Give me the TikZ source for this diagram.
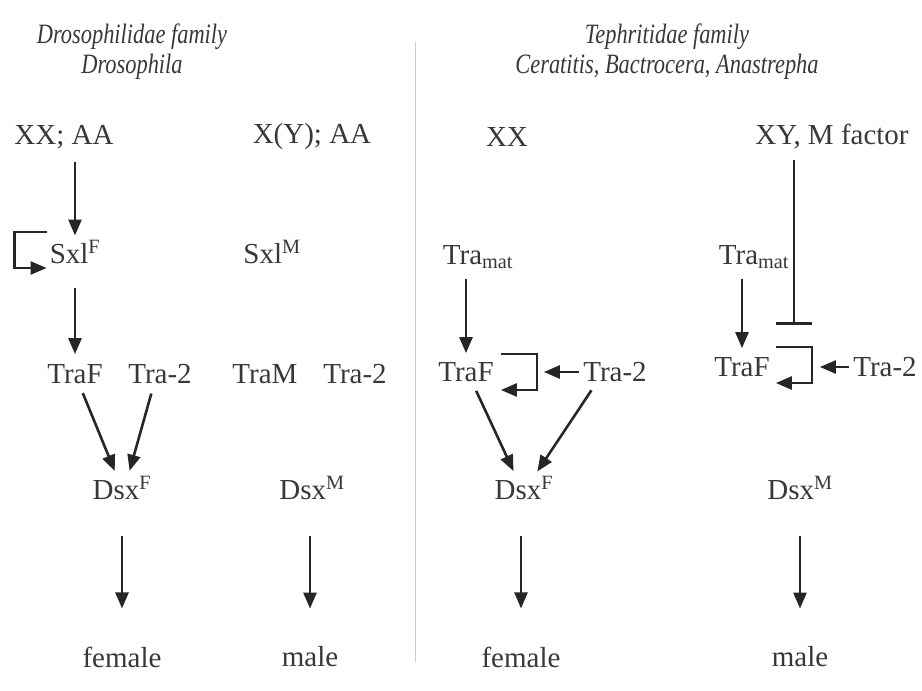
\documentclass[tikz,border=0pt]{standalone}
\usepackage{fontspec}
\setmainfont{Liberation Serif}
\newfontfamily\hdrfont[FakeStretch=0.8]{Liberation Serif}
\usetikzlibrary{arrows.meta,positioning,calc}
\definecolor{txtcol}{HTML}{383838}
\definecolor{arrcol}{HTML}{262626}
\definecolor{sepcol}{HTML}{CCCCCC}

\begin{document}
\begin{tikzpicture}[x=1pt,y=-1pt,
    lbl/.style={inner sep=0pt, text=txtcol, font=\fontsize{29}{34}\selectfont},
    hdr/.style={inner sep=0pt, text=txtcol, align=center, font=\hdrfont\itshape\fontsize{28}{30}\selectfont},
    arr/.style={draw=arrcol, line width=2.6pt, -{Triangle[length=16pt,width=13pt]}},
    blk/.style={draw=arrcol, line width=2.6pt, -{Bar[width=36pt]}},
  ]
  \useasboundingbox (0,0) rectangle (922,691);

  % headers
  \node[hdr] (hdrL) at (132,52) {Drosophilidae family\\Drosophila};
  \node[hdr] (hdrR) at (667,52) {Tephritidae family\\Ceratitis, Bactrocera, Anastrepha};
  \draw[sepcol, line width=1pt] (415,42) -- (415,662);

  % Drosophila, female
  \node[lbl] (xxaa) at (64,137) {XX; AA};
  \node[lbl] (sxlF) at (75,252) {Sxl\textsuperscript{F}};
  \node[lbl] (traF) at (75,374) {TraF};
  \node[lbl] (tra2) at (160,374) {Tra-2};
  \node[lbl] (dsxF) at (122,488) {Dsx\textsuperscript{F}};
  \node[lbl] (fem) at (122,657) {female};

  \draw[arr, shorten <=13pt, shorten >=5pt] (xxaa.south -| sxlF.north) -- (sxlF.north);
  \draw[arr] ([shift={(-3,-20)}]sxlF.west) -- ++(-32,0) -- ++(0,36) -- ++(32,0);
  \draw[arr, shorten <=24pt, shorten >=10pt] (sxlF.south) -- (traF.north);
  \draw[arr, shorten <=10pt, shorten >=6pt] ([xshift=4pt]traF.south) -- ([xshift=-5pt]dsxF.north);
  \draw[arr, shorten <=10pt, shorten >=6pt] ([xshift=-6pt]tra2.south) -- ([xshift=6pt]dsxF.north);
  \draw[arr, shorten <=36pt, shorten >=38pt] (dsxF.south -| fem.north) -- (fem.north);

  % Drosophila, male
  \node[lbl] (xyaa) at (312,137) {X(Y); AA};
  \node[lbl] (sxlM) at (272,252) {Sxl\textsuperscript{M}};
  \node[lbl] (traM) at (265,374) {TraM};
  \node[lbl] (tra2m) at (355,374) {Tra-2};
  \node[lbl] (dsxM) at (312,488) {Dsx\textsuperscript{M}};
  \node[lbl] (mal) at (310,657) {male};

  \draw[arr, shorten <=36pt, shorten >=38pt] (dsxM.south -| mal.north) -- (mal.north);

  % Tephritidae, female
  \node[lbl] (xx) at (507,137) {XX};
  \node[lbl] (tmatF) at (478,257) {Tra\textsubscript{mat}};
  \node[lbl] (traFR) at (466,372) {TraF};
  \node[lbl] (tra2R) at (615,372) {Tra-2};
  \node[lbl] (dsxFR) at (524,488) {Dsx\textsuperscript{F}};
  \node[lbl] (femR) at (521,657) {female};

  \draw[arr, shorten <=10pt, shorten >=9pt] (tmatF.south -| traFR.north) -- (traFR.north);
  \draw[arr] ([shift={(7,-18)}]traFR.east) -- ++(36,0) -- ++(0,36) -- ++(-36,0);
  \draw[arr, shorten <=4pt, shorten >=50pt] (tra2R.west) -- (traFR.east);
  \draw[arr, shorten <=10pt, shorten >=6pt] ([xshift=6pt]traFR.south) -- ([xshift=-8pt]dsxFR.north);
  \draw[arr, shorten <=10pt, shorten >=6pt] ([xshift=-18pt]tra2R.south) -- ([xshift=10pt]dsxFR.north);
  \draw[arr, shorten <=36pt, shorten >=38pt] (dsxFR.south -| femR.north) -- (femR.north);

  % Tephritidae, male
  \node[lbl] (xym) at (832,137) {XY, M factor};
  \node[lbl] (tmatM) at (754,257) {Tra\textsubscript{mat}};
  \node[lbl] (traFM) at (742,367) {TraF};
  \node[lbl] (tra2M) at (885,367) {Tra-2};
  \node[lbl] (dsxMR) at (800,488) {Dsx\textsuperscript{M}};
  \node[lbl] (malR) at (800,657) {male};
  \coordinate (stopM) at ($(traFM.east)+(24,-42)$);

  \draw[blk, shorten <=10pt] (xym.south -| stopM) -- (stopM);
  \draw[arr, shorten <=10pt, shorten >=9pt] (tmatM.south -| traFM.north) -- (traFM.north);
  \draw[arr] ([shift={(6,-20)}]traFM.east) -- ++(36,0) -- ++(0,36) -- ++(-36,0);
  \draw[arr, shorten <=4pt, shorten >=50pt] (tra2M.west) -- (traFM.east);
  \draw[arr, shorten <=36pt, shorten >=38pt] (dsxMR.south -| malR.north) -- (malR.north);
\end{tikzpicture}
\end{document}
